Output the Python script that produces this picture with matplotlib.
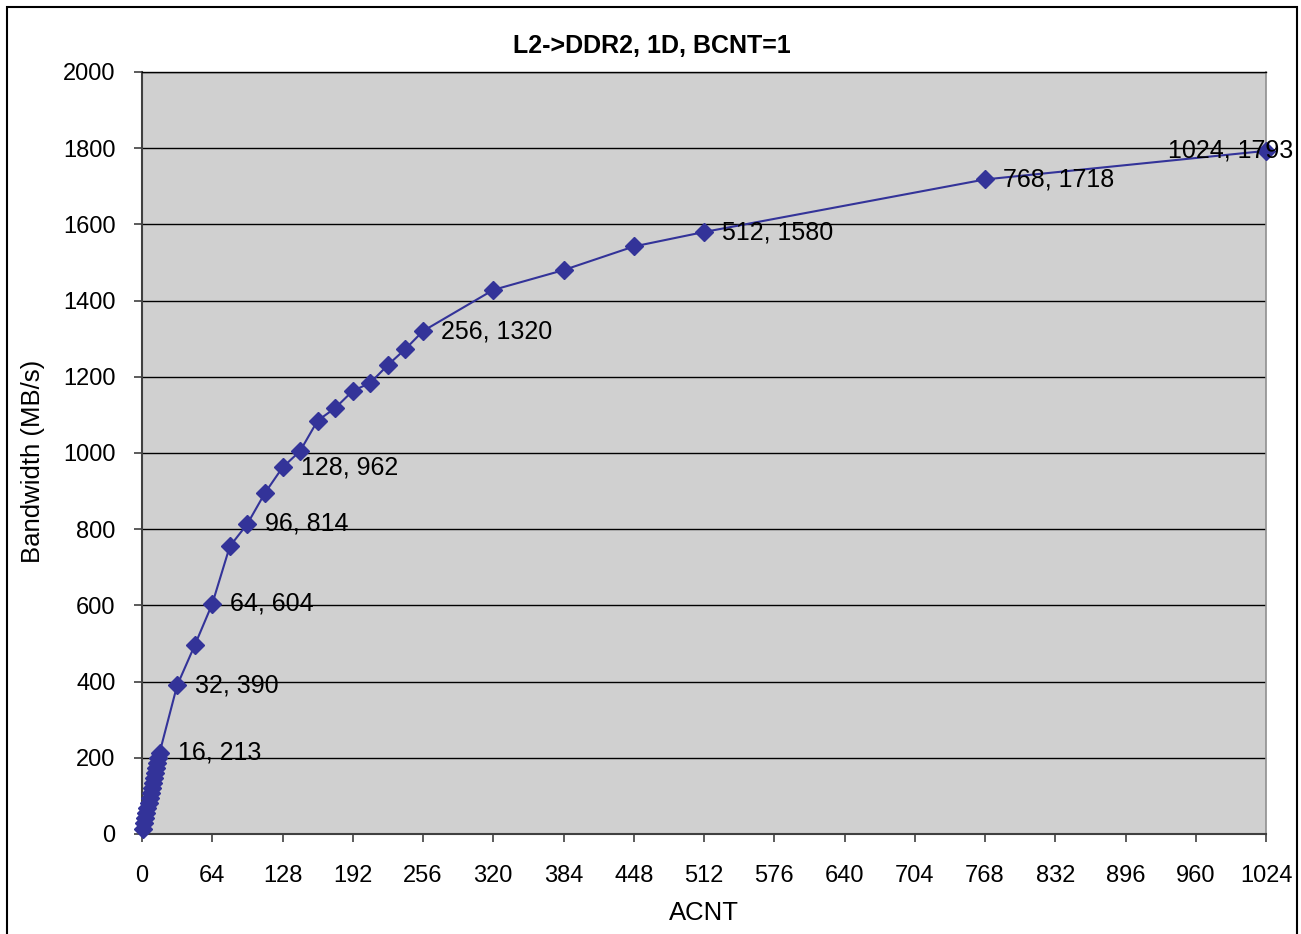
import matplotlib
matplotlib.use("Agg")
import matplotlib.pyplot as plt
from matplotlib.patches import Rectangle

plt.rcParams['font.family'] = ['Liberation Sans', 'DejaVu Sans']

# ---- data ----
acnt = [1, 2, 3, 4, 5, 6, 7, 8, 9, 10, 11, 12, 13, 14, 15, 16,
        32, 48, 64, 80, 96, 112, 128, 144, 160, 176, 192, 208, 224, 240, 256,
        320, 384, 448, 512, 768, 1024]
bandwidth = [14, 28, 41, 55, 68, 82, 95, 108, 121, 134, 147, 160, 173, 186, 200, 213,
             390, 495, 604, 755, 814, 895, 962, 1005, 1085, 1118, 1163, 1184, 1231, 1273, 1320,
             1428, 1480, 1542, 1580, 1718, 1793]
labelled_acnt = [16, 32, 64, 96, 128, 256, 512, 768, 1024]

x_ticks = list(range(0, 1025, 64))
y_ticks = list(range(0, 2001, 200))

title = "L2->DDR2, 1D, BCNT=1"
x_label = "ACNT"
y_label = "Bandwidth (MB/s)"

# ---- figure ----
W, H = 1301, 934
fig = plt.figure(figsize=(W / 100, H / 100), dpi=100)
fig.patch.set_facecolor('white')

l, r, b, t = 142, 1266, 834, 72
ax = fig.add_axes([l / W, 1 - b / H, (r - l) / W, (b - t) / H])
ax.set_facecolor('#D0D0D0')

line_color = '#333399'
ax.plot(acnt, bandwidth, color=line_color, lw=1.5, marker='D', ms=9,
        mec=line_color, mfc=line_color, zorder=3, clip_on=False)

for xv, yv in zip(acnt, bandwidth):
    if xv in labelled_acnt:
        txt = f"{xv}, {yv}"
        if xv == max(acnt):
            ax.annotate(txt, (xv, yv), xytext=(19.5, 0), textcoords='offset points',
                        ha='right', va='center', fontsize=18, color='black',
                        annotation_clip=False, zorder=4)
        else:
            ax.annotate(txt, (xv, yv), xytext=(13, 0), textcoords='offset points',
                        ha='left', va='center', fontsize=18, color='black', zorder=4)

ax.set_xlim(0, 1024)
ax.set_ylim(0, 2000)
ax.set_xticks(x_ticks)
ax.set_yticks(y_ticks)
ax.tick_params(axis='both', direction='out', length=6, width=1.2, color='#404040',
               labelsize=17, labelcolor='black')
ax.tick_params(axis='y', pad=13)
ax.tick_params(axis='x', pad=16)

ax.yaxis.grid(True, color='black', lw=1.0)
ax.set_axisbelow(True)
for side in ['left', 'bottom']:
    ax.spines[side].set_color('#404040')
    ax.spines[side].set_linewidth(1.5)
ax.spines['top'].set_color('black')
ax.spines['top'].set_linewidth(1.0)
ax.spines['right'].set_color('#909090')
ax.spines['right'].set_linewidth(1.2)

fig.text(652 / W, 1 - 46 / H, title, ha='center', va='center',
         fontsize=18, fontweight='bold', color='black')
fig.text(704 / W, 1 - 913 / H, x_label, ha='center', va='center', fontsize=18.5)
fig.text(33 / W, 1 - 461 / H, y_label, ha='center', va='center', fontsize=18.5,
         rotation=90)

fig.add_artist(Rectangle((7 / W, -0.05), (1297 - 7) / W, 1.05 - 7 / H,
                         transform=fig.transFigure, fill=False, ec='black', lw=1.5))

fig.savefig('out.png', dpi=100)
